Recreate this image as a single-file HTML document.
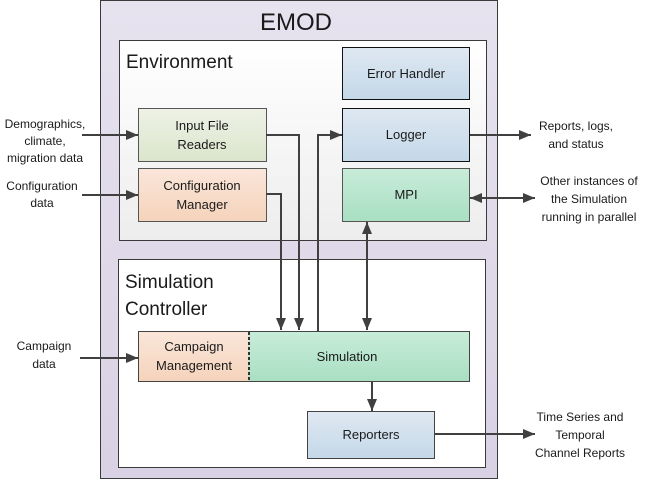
<!DOCTYPE html>
<html><head><meta charset="utf-8"><style>
html,body{margin:0;padding:0;background:#fff;}
svg{display:block;}
text{font-family:"Liberation Sans",sans-serif;fill:#1a1a1a;}
</style></head><body>
<svg width="646" height="483" viewBox="0 0 646 483" xmlns="http://www.w3.org/2000/svg">
<defs>
<linearGradient id="gOut" x1="0" y1="0" x2="0" y2="1"><stop offset="0" stop-color="#e6e2ee"/><stop offset="1" stop-color="#d9d1e4"/></linearGradient>
<linearGradient id="gEnv" x1="0" y1="0" x2="0" y2="1"><stop offset="0" stop-color="#ffffff"/><stop offset="1" stop-color="#ededed"/></linearGradient>
<linearGradient id="gBlue" x1="0" y1="0" x2="0" y2="1"><stop offset="0" stop-color="#dfe8f2"/><stop offset="1" stop-color="#c4d8e8"/></linearGradient>
<linearGradient id="gGreenL" x1="0" y1="0" x2="0" y2="1"><stop offset="0" stop-color="#eef2e6"/><stop offset="1" stop-color="#dbe5cc"/></linearGradient>
<linearGradient id="gOr" x1="0" y1="0" x2="0" y2="1"><stop offset="0" stop-color="#fae6da"/><stop offset="1" stop-color="#f5d3bb"/></linearGradient>
<linearGradient id="gMint" x1="0" y1="0" x2="0" y2="1"><stop offset="0" stop-color="#c8ecd9"/><stop offset="1" stop-color="#a9dfc2"/></linearGradient>
<marker id="ah" viewBox="0 0 12 10" refX="12" refY="5" markerWidth="12" markerHeight="10" markerUnits="userSpaceOnUse" orient="auto-start-reverse"><path d="M0,0 L12,5 L0,10 z" fill="#404040"/></marker>
</defs>
<rect x="100.5" y="0.5" width="397" height="478" fill="url(#gOut)" stroke="#3a3a3a"/>
<text x="296" y="30" font-size="24" text-anchor="middle">EMOD</text>
<rect x="119.5" y="40.5" width="367" height="200" fill="url(#gEnv)" stroke="#3a3a3a"/>
<text x="126" y="68" font-size="19">Environment</text>
<rect x="118.5" y="259.5" width="367" height="208" fill="#fff" stroke="#3a3a3a"/>
<text x="125" y="288" font-size="19">Simulation</text>
<text x="125" y="315" font-size="19">Controller</text>
<g stroke="#111" stroke-width="1">
<rect x="342.5" y="47.5" width="127" height="52" fill="url(#gBlue)"/>
<rect x="342.5" y="108.5" width="127" height="53" fill="url(#gBlue)"/>
<rect x="342.5" y="168.5" width="127" height="53" fill="url(#gMint)" stroke="#555"/>
<rect x="138.5" y="108.5" width="128" height="53" fill="url(#gGreenL)" stroke="#555"/>
<rect x="138.5" y="168.5" width="128" height="53" fill="url(#gOr)" stroke="#555"/>
<rect x="138.5" y="331.5" width="110" height="50" fill="url(#gOr)" stroke="none"/>
<rect x="248.5" y="331.5" width="221" height="50" fill="url(#gMint)" stroke="none"/>
<rect x="138.5" y="331.5" width="331" height="50" fill="none" stroke="#444"/>
<line x1="249" y1="332" x2="249" y2="381" stroke="#333" stroke-width="2" stroke-dasharray="3,2"/>
<rect x="307.5" y="411.5" width="127" height="47" fill="url(#gBlue)" stroke="#444"/>
</g>
<g font-size="13" text-anchor="middle">
<text x="406" y="78">Error Handler</text>
<text x="406" y="139">Logger</text>
<text x="406" y="199">MPI</text>
<text x="202" y="130">Input File</text>
<text x="202" y="149">Readers</text>
<text x="202" y="190">Configuration</text>
<text x="202" y="209">Manager</text>
<text x="194" y="351">Campaign</text>
<text x="194" y="370">Management</text>
<text x="347" y="361">Simulation</text>
<text x="371" y="439">Reporters</text>
<text x="45" y="128" font-size="12">Demographics,</text>
<text x="45" y="145" font-size="12">climate,</text>
<text x="45" y="162" font-size="12">migration data</text>
<text x="42" y="190" font-size="12">Configuration</text>
<text x="42" y="207" font-size="12">data</text>
<text x="44" y="350" font-size="12">Campaign</text>
<text x="44" y="368" font-size="12">data</text>
<text x="576" y="130" font-size="12">Reports, logs,</text>
<text x="576" y="148" font-size="12">and status</text>
<text x="589" y="185" font-size="12">Other instances of</text>
<text x="589" y="203" font-size="12">the Simulation</text>
<text x="589" y="221" font-size="12">running in parallel</text>
<text x="580" y="421" font-size="12">Time Series and</text>
<text x="580" y="439" font-size="12">Temporal</text>
<text x="580" y="457" font-size="12">Channel Reports</text>
</g>
<g stroke="#404040" stroke-width="2" fill="none">
<line x1="82" y1="135" x2="138" y2="135" marker-end="url(#ah)"/>
<line x1="82" y1="195" x2="138" y2="195" marker-end="url(#ah)"/>
<line x1="80" y1="358" x2="138" y2="358" marker-end="url(#ah)"/>
<polyline points="266,135 299,135 299,330" marker-end="url(#ah)"/>
<polyline points="266,194 281,194 281,330" marker-end="url(#ah)"/>
<polyline points="318,331 318,135 342,135" marker-end="url(#ah)"/>
<line x1="367" y1="222" x2="367" y2="330" marker-start="url(#ah)" marker-end="url(#ah)"/>
<line x1="372" y1="382" x2="372" y2="411" marker-end="url(#ah)"/>
<line x1="470" y1="135" x2="531" y2="135" marker-end="url(#ah)"/>
<line x1="470" y1="198" x2="535" y2="198" marker-start="url(#ah)" marker-end="url(#ah)"/>
<line x1="435" y1="434" x2="535" y2="434" marker-end="url(#ah)"/>
</g>
</svg>
</body></html>
